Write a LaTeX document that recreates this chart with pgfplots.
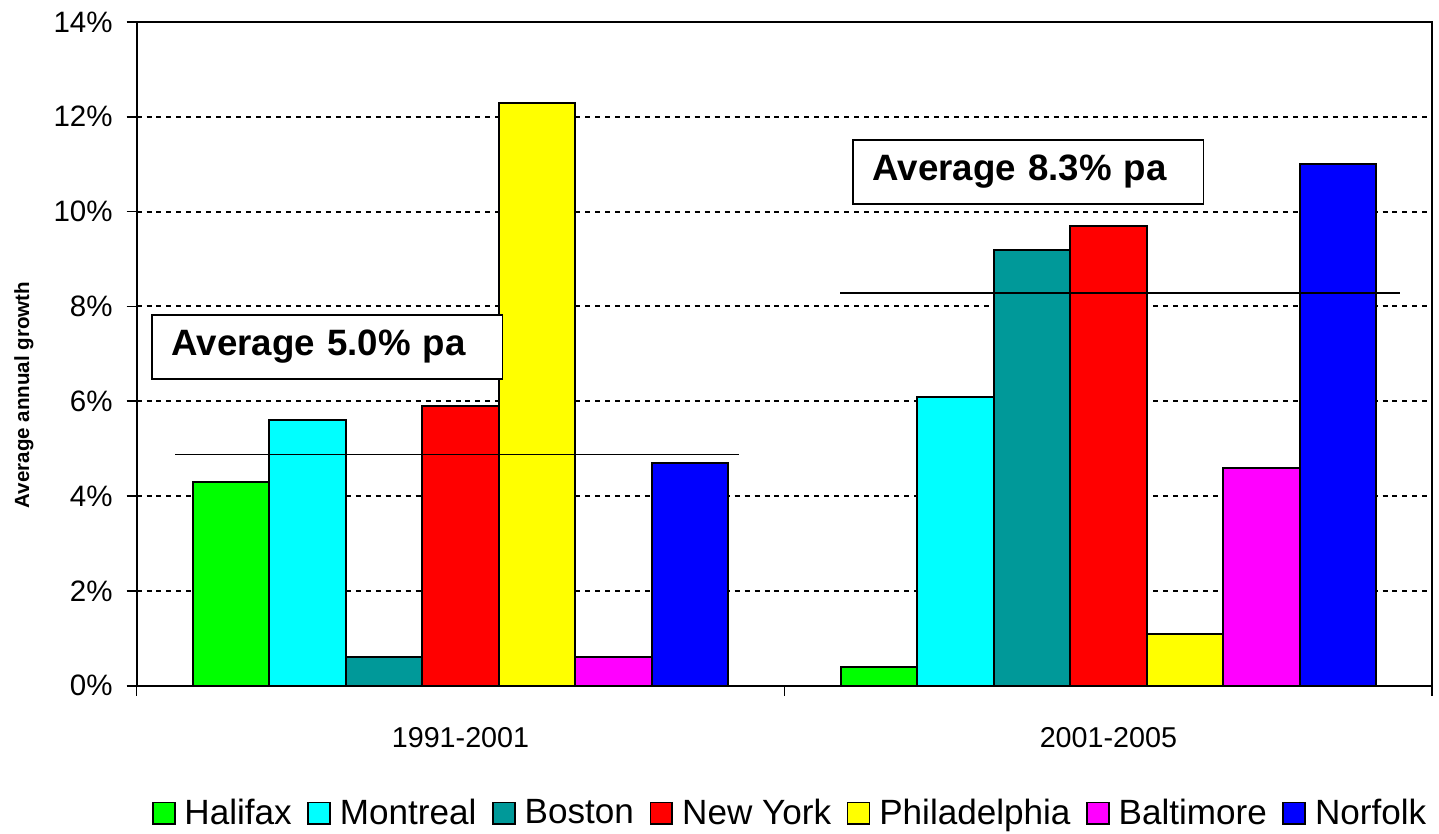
\documentclass[border=0pt]{standalone}
\usepackage{pgfplots}
\pgfplotsset{compat=1.18}
\usepackage{fontspec}
\setmainfont{Liberation Sans}
\definecolor{cgreen}{RGB}{0,255,0}
\definecolor{ccyan}{RGB}{0,255,255}
\definecolor{cteal}{RGB}{0,153,153}
\definecolor{cred}{RGB}{255,0,0}
\definecolor{cyellow}{RGB}{255,255,0}
\definecolor{cmagenta}{RGB}{255,0,255}
\definecolor{cblue}{RGB}{0,0,255}
\begin{document}
\begin{tikzpicture}
\begin{axis}[
  scale only axis, width=650pt, height=333pt,
  xmin=-0.5, xmax=1.5, ymin=0, ymax=14,
  axis line style={black, line width=1pt},
  ytick={0,2,...,14},
  ytick pos=left, xtick pos=bottom,
  tick align=outside,
  major tick length=5pt,
  tick style={black, line width=0.9pt},
  yticklabel={\pgfmathprintnumber[assume math mode=true]{\tick}\%},
  yticklabel style={font=\fontsize{14.8}{17}\selectfont, xshift=-3.5pt},
  xtick={-0.5,0.5,1.5}, xticklabels={},
  extra x ticks={0,1},
  extra x tick labels={1991-2001,2001-2005},
  extra x tick style={major tick length=0pt},
  xticklabel style={font=\fontsize{14.4}{17}\selectfont, yshift=-17.5pt},
  ymajorgrids,
  grid style={black, line width=1pt, dash pattern=on 2.5pt off 2.5pt},
  ylabel={Average annual growth},
  ylabel style={at={(axis description cs:-0.087,0.438)}, anchor=center, rotate=0, font=\bfseries\fontsize{10.3}{12}\selectfont},
  ybar=0pt, bar width=0.118,
  legend columns=7,
  legend style={at={(axis description cs:0.507,0)}, anchor=center, yshift=-64pt, draw=none,
    inner sep=0pt, outer sep=0pt,
    font=\fontsize{17.6}{21}\selectfont, column sep=0pt,
    nodes={inner xsep=4.5pt, inner ysep=0pt},
    /tikz/every even column/.append style={column sep=3.3pt}},
  legend image code/.code={\draw[#1,draw=black,line width=0.9pt] (0pt,-5.5pt) rectangle (11pt,5.5pt);},
]
\addplot[fill=cgreen, draw=black, line width=1pt, bar shift=-0.354] coordinates {(0,4.3) (1,0.4)};
\addplot[fill=ccyan, draw=black, line width=1pt, bar shift=-0.236] coordinates {(0,5.6) (1,6.1)};
\addplot[fill=cteal, draw=black, line width=1pt, bar shift=-0.118] coordinates {(0,0.6) (1,9.2)};
\addplot[fill=cred, draw=black, line width=1pt, bar shift=0] coordinates {(0,5.9) (1,9.7)};
\addplot[fill=cyellow, draw=black, line width=1pt, bar shift=0.118] coordinates {(0,12.3) (1,1.1)};
\addplot[fill=cmagenta, draw=black, line width=1pt, bar shift=0.236] coordinates {(0,0.6) (1,4.6)};
\addplot[fill=cblue, draw=black, line width=1pt, bar shift=0.354] coordinates {(0,4.7) (1,11.0)};
\legend{Halifax,Montreal,Boston,New York,Philadelphia,Baltimore,Norfolk}
\addplot[sharp plot, black, line width=0.7pt, forget plot] coordinates {(-0.44,4.88) (0.43,4.88)};
\addplot[sharp plot, black, line width=0.7pt, forget plot] coordinates {(0.586,8.28) (1.45,8.28)};
\node[draw=black, line width=0.9pt, fill=white, minimum width=176pt, minimum height=32pt,
  text width=156pt, inner xsep=10pt, align=left, font=\bfseries\fontsize{18.4}{20}\selectfont]
  at (axis cs:-0.206,7.147) {Average 5.0\% pa};
\node[draw=black, line width=0.9pt, fill=white, minimum width=176pt, minimum height=32pt,
  text width=156pt, inner xsep=10pt, align=left, font=\bfseries\fontsize{18.4}{20}\selectfont]
  at (axis cs:0.876,10.837) {Average 8.3\% pa};
\end{axis}
\path ([xshift=-68.5pt,yshift=-74pt]current axis.south west) rectangle ([xshift=1pt,yshift=11pt]current axis.north east);
\end{tikzpicture}
\end{document}
